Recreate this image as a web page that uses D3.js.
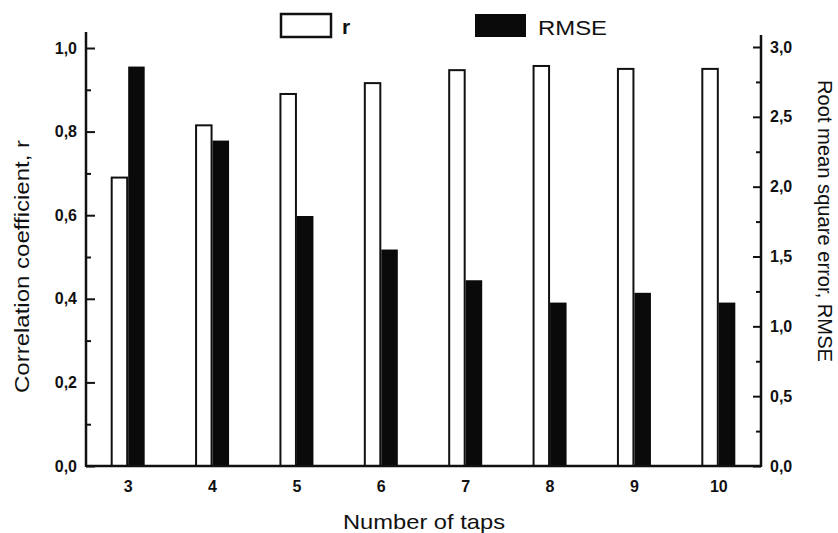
<!DOCTYPE html>
<html>
<head>
<meta charset="utf-8">
<script src="https://cdn.jsdelivr.net/npm/d3@7"></script>
<style>
  body { margin: 0; background: #fff; }
  text { font-family: "Liberation Sans", Arial, sans-serif; fill: #111; }
</style>
</head>
<body>
<script>
// data
var taps = ["3", "4", "5", "6", "7", "8", "9", "10"];
var rValues = [0.69, 0.815, 0.89, 0.916, 0.947, 0.957, 0.95, 0.95];
var rmseValues = [2.86, 2.33, 1.79, 1.55, 1.33, 1.17, 1.24, 1.17];
var leftTicks = [0, 0.2, 0.4, 0.6, 0.8, 1.0];
var leftMinor = [0.1, 0.3, 0.5, 0.7, 0.9];
var rightTicks = [0, 0.5, 1.0, 1.5, 2.0, 2.5, 3.0];
var rightMinor = [0.25, 0.75, 1.25, 1.75, 2.25, 2.75];

var w = 838, h = 533;
// note: "top" is taken by window.top, so plotTop
var plotLeft = 86, plotRight = 761, plotTop = 33, plotBottom = 466;

var svg = d3.select("body").append("svg")
    .attr("width", w)
    .attr("height", h)
    .style("background", "#fff");

var x = d3.scaleBand().domain(taps).range([plotLeft, plotRight]);
var xSub = d3.scaleBand().domain(["r", "rmse"]).range([-17.5, 17.5]);
var yL = d3.scaleLinear().domain([0, 1]).range([plotBottom, 48]);
var yR = d3.scaleLinear().domain([0, 3]).range([plotBottom, 47]);

var comma = function(d) { return d3.format(".1f")(d).replace(".", ","); };

// bars
var rows = taps.map(function(t, i) { return {tap: t, r: rValues[i], rmse: rmseValues[i]}; });

svg.selectAll("rect.r")
   .data(rows)
   .enter()
   .append("rect")
   .attr("class", "r")
   .attr("x", d => x(d.tap) + x.bandwidth() / 2 + xSub("r") + 1)
   .attr("y", d => yL(d.r))
   .attr("width", xSub.bandwidth() - 2)
   .attr("height", d => plotBottom - yL(d.r))
   .attr("fill", "#fff")
   .attr("stroke", "#111")
   .attr("stroke-width", 2);

svg.selectAll("rect.rmse")
   .data(rows)
   .enter()
   .append("rect")
   .attr("class", "rmse")
   .attr("x", d => x(d.tap) + x.bandwidth() / 2 + xSub("rmse"))
   .attr("y", d => yR(d.rmse))
   .attr("width", xSub.bandwidth() - 1)
   .attr("height", d => plotBottom - yR(d.rmse))
   .attr("fill", "#0a0a0a");

// left axis
var gL = svg.append("g").attr("transform", "translate(" + plotLeft + ",0)");
gL.call(d3.axisLeft(yL).tickValues(leftTicks).tickSize(-9).tickPadding(9).tickFormat(comma));
gL.append("g").call(d3.axisLeft(yL).tickValues(leftMinor).tickSize(-5).tickFormat(""));
gL.selectAll(".domain").remove();
gL.selectAll("line").attr("stroke", "#111").attr("stroke-width", 2);
gL.selectAll("text").attr("font-size", 16).attr("font-weight", "bold").style("fill", "#111");

// right axis
var gR = svg.append("g").attr("transform", "translate(" + plotRight + ",0)");
gR.call(d3.axisRight(yR).tickValues(rightTicks).tickSize(-8).tickPadding(9).tickFormat(comma));
gR.append("g").call(d3.axisRight(yR).tickValues(rightMinor).tickSize(-5).tickFormat(""));
gR.selectAll(".domain").remove();
gR.selectAll("line").attr("stroke", "#111").attr("stroke-width", 2);
gR.selectAll("text").attr("font-size", 16).attr("font-weight", "bold").style("fill", "#111");

// axis lines
svg.append("line").attr("x1", plotLeft).attr("x2", plotLeft).attr("y1", plotTop - 1).attr("y2", plotBottom + 1)
   .attr("stroke", "#111").attr("stroke-width", 2.5);
svg.append("line").attr("x1", plotRight).attr("x2", plotRight).attr("y1", plotTop + 2).attr("y2", plotBottom + 1)
   .attr("stroke", "#111").attr("stroke-width", 2.5);
svg.append("line").attr("x1", plotLeft).attr("x2", plotRight).attr("y1", plotBottom).attr("y2", plotBottom)
   .attr("stroke", "#111").attr("stroke-width", 2.5);

// category labels
svg.selectAll("text.cat")
   .data(taps)
   .enter()
   .append("text")
   .attr("class", "cat")
   .text(d => d)
   .attr("text-anchor", "middle")
   .attr("x", d => x(d) + x.bandwidth() / 2)
   .attr("y", 492)
   .attr("font-size", 16)
   .attr("font-weight", "bold");

// titles
svg.append("text")
   .text("Number of taps")
   .attr("x", 343).attr("y", 529)
   .attr("font-size", 21)
   .attr("textLength", 162).attr("lengthAdjust", "spacingAndGlyphs");

svg.append("text")
   .text("Correlation coefficient, r")
   .attr("transform", "translate(29,393) rotate(-90)")
   .attr("font-size", 20)
   .attr("textLength", 253).attr("lengthAdjust", "spacingAndGlyphs");

svg.append("text")
   .text("Root mean square error, RMSE")
   .attr("transform", "translate(818,80) rotate(90)")
   .attr("font-size", 20)
   .attr("textLength", 282).attr("lengthAdjust", "spacingAndGlyphs");

// legend
svg.append("rect").attr("x", 281).attr("y", 14).attr("width", 50).attr("height", 23)
   .attr("fill", "#fff").attr("stroke", "#111").attr("stroke-width", 2.5);
svg.append("text").text("r").attr("x", 342).attr("y", 34)
   .attr("font-size", 21).attr("font-weight", "bold");
svg.append("rect").attr("x", 475).attr("y", 14).attr("width", 51).attr("height", 23)
   .attr("fill", "#0a0a0a");
svg.append("text").text("RMSE").attr("x", 538).attr("y", 35)
   .attr("font-size", 21)
   .attr("textLength", 69).attr("lengthAdjust", "spacingAndGlyphs");
</script>
</body>
</html>
